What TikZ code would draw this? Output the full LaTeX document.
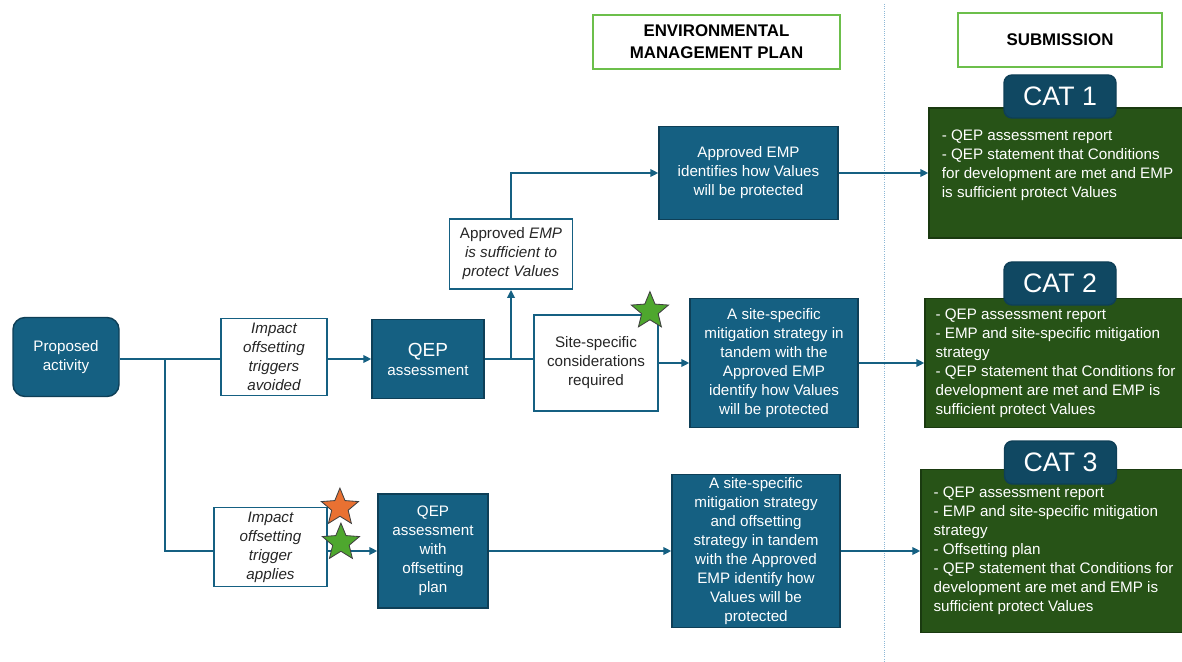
\documentclass[tikz,border=0pt]{standalone}
\usepackage{fontspec}
\setmainfont{Liberation Sans}
\usetikzlibrary{arrows.meta,shapes.geometric}

\newlength{\pxu}
\setlength{\pxu}{0.025cm}
\newcommand{\boxfont}{\fontsize{10.8}{13.5}\selectfont}
\newcommand{\catfont}{\fontsize{19}{22}\selectfont}
\newcommand{\headfont}{\fontsize{12}{15.5}\selectfont\bfseries}

\definecolor{accblue}{HTML}{156082}
\definecolor{boxedge}{HTML}{0E3F57}
\definecolor{catblue}{HTML}{104862}
\definecolor{darkgreen}{HTML}{275317}
\definecolor{greenedge}{HTML}{1A3A10}
\definecolor{headgreen}{HTML}{6CBF4B}
\definecolor{starorange}{HTML}{E97132}
\definecolor{stargreen}{HTML}{4EA72E}
\definecolor{sepblue}{HTML}{8DB8D6}
\definecolor{textgray}{HTML}{262626}

\tikzset{
	bluebox/.style={draw=boxedge, fill=accblue, line width=1pt, text=white, align=center, font=\boxfont, inner sep=0pt},
	whitebox/.style={draw=accblue, fill=white, line width=1.3pt, text=textgray, align=center, font=\boxfont, inner sep=0pt},
	greenbox/.style={draw=greenedge, fill=darkgreen, line width=1pt, text=white, align=left, font=\boxfont, inner sep=0pt},
	catlabel/.style={draw=boxedge, fill=catblue, line width=1pt, rounded corners=8\pxu, text=white, font=\catfont, minimum width=112\pxu, minimum height=43\pxu, inner sep=0pt},
	headbox/.style={draw=headgreen, fill=white, line width=1.3pt, align=center, font=\headfont, inner sep=0pt},
	sepline/.style={draw=sepblue, densely dotted, line width=0.6pt},
	link/.style={draw=accblue, line width=1.3pt},
	arr/.style={link, -{Triangle[length=2mm,width=1.9mm]}},
	badge/.style={star, star points=5, star point ratio=2.25, minimum size=39\pxu, inner sep=0pt, draw=black!75, line width=0.6pt},
}

\begin{document}
\begin{tikzpicture}[x=0.025cm, y=-0.025cm]
	\useasboundingbox (0,0) rectangle (1182,662);

	% column headers
	\node[headbox, minimum width=247\pxu, minimum height=54\pxu] (envhead) at (716.5,42) {ENVIRONMENTAL\\MANAGEMENT PLAN};
	\node[headbox, minimum width=204\pxu, minimum height=54\pxu] (subhead) at (1060,40) {SUBMISSION};
	\draw[sepline] (884,4) -- (884,662);

	% flow
	\node[bluebox, rounded corners=12\pxu, minimum width=106\pxu, minimum height=79\pxu] (prop) at (66,357) {Proposed\\activity};
	\node[whitebox, font=\boxfont\itshape, minimum width=106\pxu, minimum height=77\pxu] (avoid) at (274,357) {Impact\\offsetting\\triggers\\avoided};
	\node[bluebox, minimum width=112\pxu, minimum height=79\pxu] (qep) at (428,359) {{\fontsize{13.5}{16}\selectfont QEP}\\assessment};
	\node[whitebox, minimum width=123\pxu, minimum height=70\pxu] (suff) at (511,254) {Approved \textit{EMP}\\\textit{is sufficient to}\\\textit{protect Values}};
	\node[bluebox, minimum width=179\pxu, minimum height=93\pxu] (emp1) at (748.5,173) {Approved EMP\\identifies how Values\\will be protected};
	\node[whitebox, minimum width=124\pxu, minimum height=96\pxu] (site) at (596,363) {Site-specific\\considerations\\required};
	\node[bluebox, minimum width=168\pxu, minimum height=129\pxu] (mit2) at (774,363) {A site-specific\\mitigation strategy in\\tandem with the\\Approved EMP\\identify how Values\\will be protected};

	\node[whitebox, font=\boxfont\itshape, minimum width=113\pxu, minimum height=79\pxu] (applies) at (270.5,547) {Impact\\offsetting\\trigger\\applies};
	\node[bluebox, minimum width=110\pxu, minimum height=114\pxu] (qepo) at (433,551) {QEP\\assessment\\with\\offsetting\\plan};
	\node[bluebox, minimum width=168\pxu, minimum height=153\pxu] (mit3) at (756,551) {A site-specific\\mitigation strategy\\and offsetting\\strategy in tandem\\with the Approved\\EMP identify how\\Values will be\\protected};

	% submissions
	\node[greenbox, minimum width=257\pxu, minimum height=130\pxu] (cat1) at (1057.5,173) {- QEP assessment report\\- QEP statement that Conditions\\for development are met and EMP\\is sufficient protect Values\\\mbox{}};
	\node[greenbox, minimum width=261\pxu, minimum height=129\pxu] (cat2) at (1055.5,363) {- QEP assessment report\\- EMP and site-specific mitigation\\strategy\\- QEP statement that Conditions for\\development are met and EMP is\\sufficient protect Values};
	\node[greenbox, minimum width=265\pxu, minimum height=163\pxu] (cat3) at (1053.5,551) {- QEP assessment report\\- EMP and site-specific mitigation\\strategy\\- Offsetting plan\\- QEP statement that Conditions for\\development are met and EMP is\\sufficient protect Values};
	\node[catlabel] (tag1) at (1060,96.5) {CAT 1};
	\node[catlabel] (tag2) at (1060,283.5) {CAT 2};
	\node[catlabel] (tag3) at (1060.5,462.5) {CAT 3};

	% connectors
	\coordinate (split1) at (165,359);
	\coordinate (split2) at (511,359);
	\draw[link] (prop.east |- split1) -- (avoid.west |- split1);
	\draw[arr] (avoid.east |- qep) -- (qep);
	\draw[link] (split1) |- (applies.west |- qepo);
	\draw[arr] (applies.east |- qepo) -- (qepo);
	\draw[link] (qep) -- (qep -| site.west);
	\draw[arr] (split2) -- (suff);
	\draw[arr] (suff) |- (emp1);
	\draw[arr] (emp1) -- (cat1);
	\draw[arr] (site) -- (mit2);
	\draw[arr] (mit2) -- (cat2);
	\draw[arr] (qepo) -- (mit3);
	\draw[arr] (mit3) -- (cat3);

	% stars
	\node[badge, fill=starorange] (star1) at ([shift={(12,1)}]applies.north east) {};
	\node[badge, fill=stargreen] (star2) at ([shift={(13,36)}]applies.north east) {};
	\node[badge, fill=stargreen] (star3) at ([shift={(-9,-3)}]site.north east) {};
\end{tikzpicture}
\end{document}
